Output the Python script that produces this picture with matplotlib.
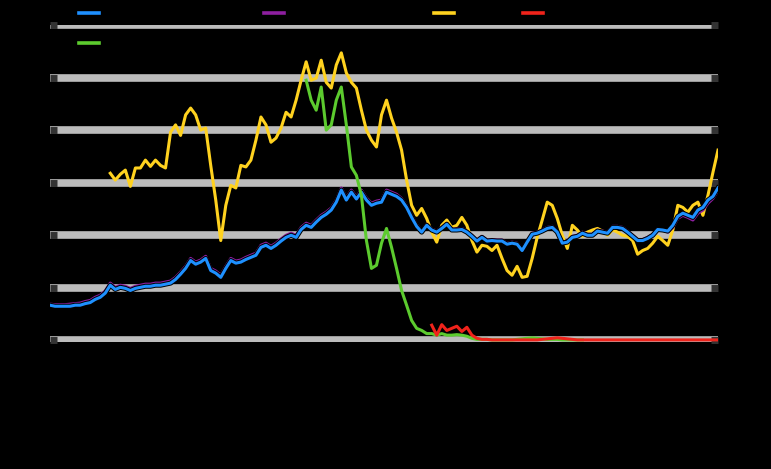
import numpy as np
import matplotlib
matplotlib.use("Agg")
import matplotlib.pyplot as plt
import matplotlib.patheffects as pe

N = 134
nan = np.nan

# series values, one value per period
blue_vals = [
    6.7, 6.5, 6.5, 6.5, 6.5, 6.7, 6.7, 7.0, 7.2, 7.8,
    8.2, 9.0, 10.5, 9.7, 10.1, 9.9, 9.5, 9.9, 10.1, 10.3,
    10.3, 10.5, 10.5, 10.7, 10.9, 11.6, 12.6, 13.7, 15.2, 14.5,
    14.9, 15.6, 13.3, 12.8, 12.0, 13.7, 15.2, 14.7, 14.9, 15.4,
    15.8, 16.2, 17.7, 18.1, 17.5, 18.1, 18.9, 19.6, 20.0, 19.6,
    21.1, 21.9, 21.5, 22.5, 23.4, 24.0, 24.8, 26.3, 28.6, 26.7,
    28.2, 26.9, 28.2, 26.7, 25.7, 26.1, 26.3, 28.2, 27.8, 27.4,
    26.7, 25.3, 23.4, 21.7, 20.6, 21.9, 21.0, 20.6, 21.3, 22.1,
    21.0, 21.0, 21.1, 20.6, 19.8, 18.9, 19.6, 18.9, 19.0, 18.9,
    18.9, 18.3, 18.5, 18.3, 17.1, 18.7, 20.2, 20.4, 20.8, 21.3,
    21.5, 20.6, 18.5, 18.7, 19.6, 19.8, 20.4, 20.0, 20.0, 20.8,
    20.6, 20.4, 21.5, 21.5, 21.3, 20.6, 19.8, 19.0, 19.0, 19.4,
    20.0, 21.1, 21.0, 20.8, 21.9, 23.6, 24.2, 23.8, 23.4, 24.8,
    25.3, 26.7, 27.4, 29.0,
]
purple_vals = [
    6.9, 6.8, 6.8, 6.8, 6.9, 7.0, 7.1, 7.4, 7.6, 8.2,
    8.6, 9.4, 10.9, 10.1, 10.5, 10.3, 9.9, 10.3, 10.5, 10.7,
    10.7, 10.9, 10.9, 11.1, 11.3, 12.0, 13.0, 14.1, 15.6, 14.9,
    15.3, 16.0, 13.7, 13.2, 12.4, 14.1, 15.6, 15.1, 15.3, 15.8,
    16.2, 16.6, 18.1, 18.5, 17.9, 18.5, 19.3, 20.0, 20.4, 20.0,
    21.5, 22.3, 21.9, 22.9, 23.8, 24.4, 25.2, 26.7, 29.0, 27.1,
    28.6, 27.3, 28.6, 27.1, 26.1, 26.5, 26.7, 28.6, 28.2, 27.8,
    27.0, 25.6, 23.7, 22.0, 20.8, 22.1, 21.2, 20.8, 21.5, 22.3,
    21.2, 21.2, 21.3, 20.8, 20.0, 19.1, 19.8, 19.1, 19.2, 19.1,
    19.1, 18.5, 18.7, 18.5, 17.3, 18.9, 20.4, 20.6, 21.0, 21.5,
    21.7, 20.8, 18.7, 18.9, 19.8, 20.0, 20.6, 20.2, 20.2, 21.0,
    20.8, 20.6, 21.7, 21.7, 21.5, 20.8, 20.0, 19.2, 19.2, 19.6,
    20.2, 21.2, 21.0, 20.6, 21.5, 23.2, 23.8, 23.4, 22.9, 24.2,
    24.8, 26.1, 27.0, 28.6,
]
yellow_start = 12
yellow_vals = [
    31.8, 30.5, 31.6, 32.4, 29.3, 32.8, 32.8, 34.3, 33.1, 34.3,
    33.3, 32.8, 39.6, 41.0, 39.0, 42.9, 44.2, 42.9, 40.0, 40.4,
    33.3, 26.7, 19.0, 25.7, 29.5, 29.0, 33.3, 33.0, 34.3, 38.1,
    42.5, 41.0, 37.7, 38.5, 40.4, 43.4, 42.5, 45.7, 49.5, 53.0,
    49.5, 49.9, 53.3, 49.1, 48.0, 52.4, 54.7, 50.9, 49.1, 48.0,
    43.8, 40.0, 38.1, 36.8, 42.9, 45.7, 42.3, 39.6, 36.2, 30.5,
    25.7, 23.8, 25.1, 23.2, 20.6, 18.7, 21.9, 22.9, 21.5, 21.9,
    23.4, 21.9, 19.0, 16.8, 18.1, 17.9, 17.1, 18.1, 15.6, 13.3,
    12.4, 14.1, 12.0, 12.2, 15.6, 19.6, 22.9, 26.3, 25.7, 23.2,
    20.0, 17.5, 21.9, 21.0, 19.8, 20.6, 21.0, 21.3, 20.8, 20.0,
    21.0, 20.6, 20.0, 19.8, 19.0, 16.4, 17.1, 17.5, 18.5, 19.8,
    19.0, 18.1, 21.0, 25.7, 25.3, 24.4, 25.7, 26.3, 23.8, 27.6,
    32.0, 36.2,
]
green_start = 51
green_vals = [
    49.5, 45.7, 43.8, 48.2, 40.0, 41.0, 45.7, 48.2, 41.0, 33.0,
    31.4, 27.6, 19.0, 13.7, 14.3, 18.5, 21.3, 17.7, 13.7, 9.5,
    6.7, 3.8, 2.3, 1.9, 1.3, 1.3, 1.0, 1.3, 1.0, 1.0,
    1.1, 1.0, 0.8, 0.4, 0.2, 0.2, 0.2, 0.1, 0.1, 0.1,
    0.1, 0.1, 0.2, 0.3, 0.4, 0.5, 0.4, 0.3, 0.2, 0.2,
    0.2, 0.1, 0.1, 0.1, 0.1, 0.1,
]
red_start = 76
red_vals = [
    2.9, 1.0, 3.0, 1.9, 2.3, 2.7, 1.7, 2.5, 1.0, 0.4,
    0.2, 0.2, 0.1, 0.1, 0.1, 0.1, 0.1, 0.1, 0.1, 0.1,
    0.1, 0.1, 0.2, 0.3, 0.4, 0.5, 0.4, 0.3, 0.2, 0.1,
    0.1, 0.1, 0.1, 0.1, 0.1, 0.1, 0.1, 0.1, 0.1, 0.1,
    0.1, 0.1, 0.1, 0.1, 0.1, 0.1, 0.1, 0.1, 0.1, 0.1,
    0.1, 0.1, 0.1, 0.1, 0.1, 0.1, 0.1, 0.1,
]

labels = ["Price index, all items", "Index, seas. adj. r.", "Spots", "Margin", "Legacy contract"]
year_labels = ["2009", "2010", "2011", "2012", "2013", "2014", "2015", "2016", "2017", "2018", "2019", "2020"]
y_ticks = [0, 10, 20, 30, 40, 50, 60]


def pad(vals, start):
    out = [nan] * start + list(vals)
    out += [nan] * (N - len(out))
    return np.array(out[:N], dtype=float)


def main():
    x = np.arange(N)
    series = [
        (pad(blue_vals, 0), "#1e90ff", 4),
        (pad(purple_vals, 0), "#8e1fa0", 3),
        (pad(yellow_vals, yellow_start), "#ffd21f", 2),
        (pad(red_vals, red_start), "#f0231b", 6),
        (pad(green_vals, green_start), "#5ccb2e", 5),
    ]

    fig = plt.figure(figsize=(7.71, 4.69), dpi=100, facecolor="black")
    ax = fig.add_axes([50 / 771, 1 - 342 / 469, 668 / 771, 317 / 469])
    ax.set_facecolor("black")

    handles = []
    for (vals, color, z), label in zip(series, labels):
        effects = None
        if color == "#1e90ff":
            effects = [pe.Stroke(linewidth=3.6, foreground="black"), pe.Normal()]
        (line,) = ax.plot(x, vals, color=color, lw=2.2, zorder=z, label=label,
                          path_effects=effects, solid_joinstyle="round")
        handles.append(line)

    ax.set_xlim(0, N - 1)
    ax.set_ylim(-0.3, 60)
    ax.set_yticks(y_ticks)
    ax.grid(axis="y", color="#bcbcbc", lw=5.5, zorder=0)
    ax.set_axisbelow(True)
    ax.tick_params(axis="y", direction="in", length=5, width=5, color="#333333",
                   labelcolor="black", right=True, labelsize=9)
    ax.set_xticks(np.arange(0, N, 12))
    ax.set_xticklabels(year_labels, rotation=90, color="black", fontsize=9)
    ax.tick_params(axis="x", length=0)
    for s in ax.spines.values():
        s.set_visible(False)

    # ncol legend fills column-wise: blue + green share the first column
    hs = [handles[0], handles[4], handles[1], handles[2], handles[3]]
    ls = [labels[0], labels[4], labels[1], labels[2], labels[3]]
    leg = fig.legend(hs, ls, loc="upper left", bbox_to_anchor=(79 / 771, 1 - 7 / 469),
                     ncol=4, frameon=False, fontsize=9, handlelength=1.6,
                     borderpad=0, borderaxespad=0, labelspacing=1.4,
                     columnspacing=2.0, labelcolor="black")
    for h in leg.legend_handles:
        h.set_path_effects([])
        h.set_linewidth(2.6)

    fig.savefig("out.png", dpi=100, facecolor="black")


if __name__ == "__main__":
    main()
